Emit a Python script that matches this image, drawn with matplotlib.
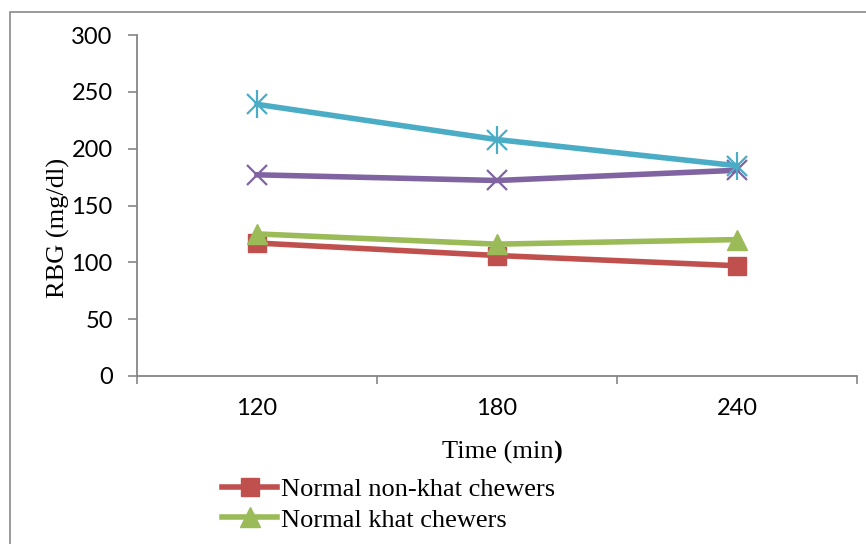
import matplotlib
matplotlib.use("Agg")
import matplotlib.pyplot as plt
from matplotlib.patches import Rectangle
from matplotlib.lines import Line2D

# data
times = ["120", "180", "240"]
non_khat = [117, 106, 97]          # Normal non-khat chewers
khat = [125, 116, 120]             # Normal khat chewers
purple_vals = [177, 172, 181]
cyan_vals = [239, 208, 185]
y_ticks = [0, 50, 100, 150, 200, 250, 300]

RED = "#C0504D"
GREEN = "#9BBB59"
PURPLE = "#8064A2"
CYAN = "#4BACC6"
GRAY = "#868686"

W, H = 866, 544
fig = plt.figure(figsize=(W / 100, H / 100), dpi=100)

# outer chart border (runs off the right and bottom of the picture)
fig.patches.append(Rectangle((10 / W, -0.2), 1.2, 1.2 - 12 / H,
                             transform=fig.transFigure, fill=False,
                             edgecolor="#8a8a8a", lw=1.2, zorder=0))

ax = fig.add_axes([137 / W, 1 - 376 / H, 720 / W, 341 / H])

x = list(range(len(times)))
lw = 4.0
ax.plot(x, non_khat, color=RED, lw=lw, marker="s", ms=13, mec=RED, zorder=3)
ax.plot(x, khat, color=GREEN, lw=lw, marker="^", ms=14, mec=GREEN, zorder=4)
ax.plot(x, purple_vals, color=PURPLE, lw=lw, marker="x", ms=15, mew=1.6, zorder=3)
ax.plot(x, cyan_vals, color=CYAN, lw=lw, marker="x", ms=15, mew=1.6, zorder=3)
ax.plot(x, cyan_vals, color=CYAN, lw=0, marker="|", ms=20, mew=1.6, zorder=3)

ax.set_xlim(-0.5, 2.5)
ax.set_ylim(0, 300)

for s in ["top", "right"]:
    ax.spines[s].set_visible(False)
for s in ["left", "bottom"]:
    ax.spines[s].set_color(GRAY)
    ax.spines[s].set_linewidth(1.3)

tick_font = {"family": "Lato", "size": 17}
ax.set_yticks(y_ticks)
ax.set_yticklabels([str(v) for v in y_ticks], fontdict=tick_font)
ax.tick_params(axis="y", direction="out", length=6.5, width=1.2, color=GRAY, pad=11)

# category boundaries get the tick marks, labels sit in the middle
ax.set_xticks([-0.5, 0.5, 1.5, 2.5])
ax.set_xticklabels([])
ax.set_xticks(x, minor=True)
ax.set_xticklabels(times, minor=True, fontdict=tick_font)
ax.tick_params(axis="x", which="major", direction="out", length=6, width=1.2, color=GRAY)
ax.tick_params(axis="x", which="minor", length=0, pad=16)

serif = {"family": "Liberation Serif", "size": 19}
ax.text(-0.1097, (376 - 228) / 341, "RBG (mg/dl)", rotation=90, ha="center",
        va="center", transform=ax.transAxes, fontdict=serif)

t1 = fig.text(553 / W, 1 - 452 / H, "Time (min", ha="right", va="center", fontdict=serif)
ax.annotate(")", xy=(1, 0), xycoords=t1, ha="left", va="bottom",
            family="Liberation Serif", size=19, weight="bold")

handles = [
    Line2D([], [], color=RED, lw=lw, marker="s", ms=13, mec=RED),
    Line2D([], [], color=GREEN, lw=lw, marker="^", ms=14, mec=GREEN),
]
fig.legend(handles, ["Normal non-khat chewers", "Normal khat chewers"],
           loc="upper left", bbox_to_anchor=(222 / W, 1 - 478 / H),
           frameon=False, borderpad=0, borderaxespad=0, handlelength=2.1,
           handletextpad=0.15, labelspacing=0.25,
           prop={"family": "Liberation Serif", "size": 19})

fig.savefig("out.png", dpi=100)
